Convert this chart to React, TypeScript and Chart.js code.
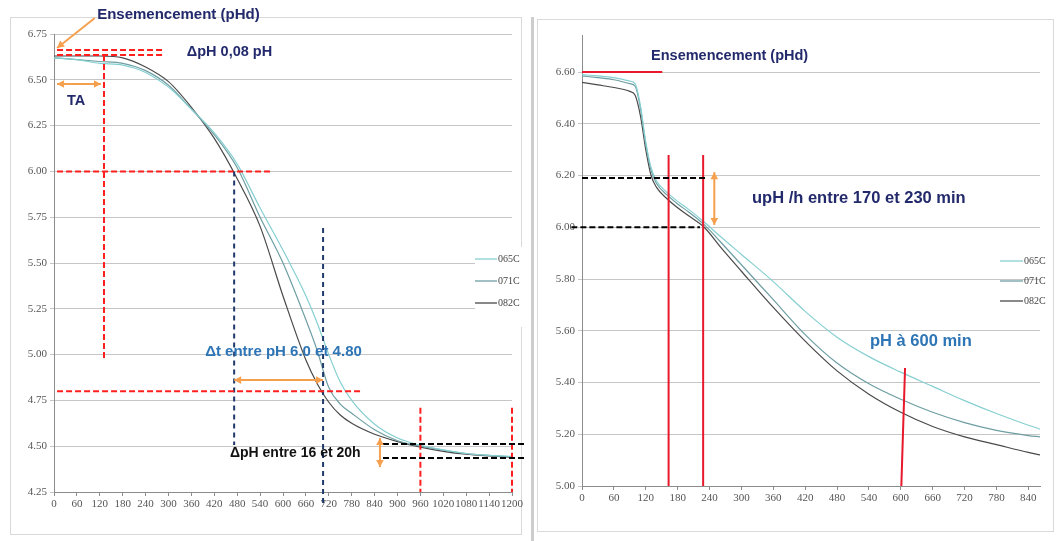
import React, { useEffect, useRef } from "react";
import { Chart, registerables } from "chart.js";

Chart.register(...registerables);

// ---------- data ----------
const seriesNames = ["065C", "071C", "082C"];

const leftTimes = [0, 60, 120, 180, 240, 300, 360, 420, 480, 540, 600, 660, 690, 720, 750, 780, 840, 900, 960, 1020, 1080, 1140, 1200];
const left065C = [6.62, 6.61, 6.59, 6.58, 6.54, 6.46, 6.34, 6.21, 6.04, 5.80, 5.57, 5.32, 5.17, 5.0, 4.85, 4.75, 4.62, 4.545, 4.505, 4.48, 4.46, 4.45, 4.445];
const left071C = [6.62, 6.61, 6.60, 6.59, 6.55, 6.47, 6.34, 6.20, 6.02, 5.75, 5.50, 5.19, 5.02, 4.82, 4.73, 4.68, 4.59, 4.53, 4.50, 4.478, 4.46, 4.45, 4.443];
const left082C = [6.63, 6.63, 6.63, 6.62, 6.57, 6.49, 6.35, 6.18, 5.96, 5.70, 5.32, 4.97, 4.84, 4.74, 4.67, 4.625, 4.565, 4.525, 4.495, 4.472, 4.456, 4.447, 4.44];
const leftXTicks = [0, 60, 120, 180, 240, 300, 360, 420, 480, 540, 600, 660, 720, 780, 840, 900, 960, 1020, 1080, 1140, 1200];
const leftYTicks = [4.25, 4.5, 4.75, 5.0, 5.25, 5.5, 5.75, 6.0, 6.25, 6.5, 6.75];

const rightTimes = [0, 30, 60, 90, 100, 110, 120, 130, 140, 160, 180, 200, 230, 260, 300, 360, 420, 480, 540, 600, 660, 720, 780, 840, 862];
const right065C = [6.59, 6.585, 6.578, 6.565, 6.555, 6.47, 6.33, 6.23, 6.18, 6.135, 6.10, 6.07, 6.02, 5.965, 5.895, 5.79, 5.675, 5.575, 5.50, 5.44, 5.385, 5.33, 5.28, 5.235, 5.22];
const right071C = [6.585, 6.578, 6.57, 6.555, 6.545, 6.46, 6.32, 6.22, 6.17, 6.125, 6.09, 6.06, 6.01, 5.945, 5.855, 5.72, 5.585, 5.475, 5.395, 5.335, 5.285, 5.245, 5.215, 5.195, 5.19];
const right082C = [6.56, 6.55, 6.54, 6.525, 6.51, 6.43, 6.30, 6.20, 6.155, 6.11, 6.075, 6.045, 6.0, 5.925, 5.83, 5.69, 5.56, 5.445, 5.355, 5.285, 5.23, 5.19, 5.16, 5.13, 5.12];
const rightXTicks = [0, 60, 120, 180, 240, 300, 360, 420, 480, 540, 600, 660, 720, 780, 840];
const rightYTicks = [5.0, 5.2, 5.4, 5.6, 5.8, 6.0, 6.2, 6.4, 6.6];

// ---------- styles ----------
const seriesColors = ["#86cfd1", "#6e9ea2", "#4a4a4a"];
const NAVY = "#232a6c";
const BLUE = "#2e75b6";
const RED = "#ff1f1f";
const ORANGE = "#f5a04e";
const DNAVY = "#1f3a6b";

type Seg = { x1: number; y1: number; x2: number; y2: number; color: string; width: number; dash?: number[]; heads?: "end" | "both" };
type Txt = { x: number; y: number; text: string; color: string; size: number; bold?: boolean };

// annotations in data units (time min, pH)
const leftSegs: Seg[] = [
  { x1: 107, y1: 6.837, x2: 8, y2: 6.674, color: ORANGE, width: 2, heads: "end" },
  { x1: 8, y1: 6.663, x2: 285, y2: 6.663, color: RED, width: 2, dash: [6, 3] },
  { x1: 8, y1: 6.635, x2: 285, y2: 6.635, color: RED, width: 2, dash: [6, 3] },
  { x1: 8, y1: 6.477, x2: 123, y2: 6.477, color: ORANGE, width: 2, heads: "both" },
  { x1: 131, y1: 6.635, x2: 131, y2: 4.97, color: RED, width: 2, dash: [6, 3] },
  { x1: 8, y1: 6.0, x2: 574, y2: 6.0, color: RED, width: 2, dash: [6, 3] },
  { x1: 472, y1: 6.0, x2: 472, y2: 4.506, color: DNAVY, width: 2, dash: [5, 4] },
  { x1: 705, y1: 5.691, x2: 705, y2: 4.179, color: DNAVY, width: 2, dash: [5, 4] },
  { x1: 472, y1: 4.861, x2: 705, y2: 4.861, color: ORANGE, width: 2, heads: "both" },
  { x1: 8, y1: 4.80, x2: 807, y2: 4.80, color: RED, width: 2, dash: [6, 3] },
  { x1: 960, y1: 4.71, x2: 960, y2: 4.25, color: RED, width: 2, dash: [6, 3] },
  { x1: 1200, y1: 4.71, x2: 1200, y2: 4.25, color: RED, width: 2, dash: [6, 3] },
  { x1: 862, y1: 4.512, x2: 1239, y2: 4.512, color: "#000", width: 2, dash: [6, 3] },
  { x1: 862, y1: 4.436, x2: 1239, y2: 4.436, color: "#000", width: 2, dash: [6, 3] },
  { x1: 854, y1: 4.545, x2: 854, y2: 4.386, color: ORANGE, width: 2, heads: "both" },
];
const leftTexts: Txt[] = [
  { x: 113, y: 6.854, text: "Ensemencement (pHd)", color: NAVY, size: 15, bold: true },
  { x: 348, y: 6.652, text: "ΔpH 0,08 pH", color: NAVY, size: 14.5, bold: true },
  { x: 34, y: 6.384, text: "TA", color: NAVY, size: 14.5, bold: true },
  { x: 396, y: 5.014, text: "Δt entre pH 6.0 et 4.80", color: BLUE, size: 15, bold: true },
  { x: 461, y: 4.463, text: "ΔpH entre 16 et 20h", color: "#111", size: 14, bold: true },
];

const rightSegs: Seg[] = [
  { x1: 0, y1: 6.60, x2: 151, y2: 6.60, color: "#e8192c", width: 2 },
  { x1: 163, y1: 6.279, x2: 163, y2: 5.0, color: "#e8192c", width: 2 },
  { x1: 228, y1: 6.279, x2: 228, y2: 5.0, color: "#e8192c", width: 2 },
  { x1: 0, y1: 6.19, x2: 232, y2: 6.19, color: "#000", width: 2, dash: [6, 3] },
  { x1: -20, y1: 6.0, x2: 222, y2: 6.0, color: "#000", width: 2, dash: [6, 3] },
  { x1: 249, y1: 6.213, x2: 249, y2: 6.009, color: ORANGE, width: 2, heads: "both" },
  { x1: 608, y1: 5.456, x2: 601, y2: 5.0, color: "#e8192c", width: 2 },
];
const rightTexts: Txt[] = [
  { x: 130, y: 6.662, text: "Ensemencement (pHd)", color: NAVY, size: 14.5, bold: true },
  { x: 320, y: 6.113, text: "upH /h entre 170 et 230 min", color: NAVY, size: 16.5, bold: true },
  { x: 542, y: 5.56, text: "pH à 600 min", color: BLUE, size: 16.5, bold: true },
];

function arrowHead(ctx: CanvasRenderingContext2D, x1: number, y1: number, x2: number, y2: number, size: number) {
  const a = Math.atan2(y2 - y1, x2 - x1);
  ctx.beginPath();
  ctx.moveTo(x2, y2);
  ctx.lineTo(x2 - size * Math.cos(a - 0.5), y2 - size * Math.sin(a - 0.5));
  ctx.lineTo(x2 - size * Math.cos(a + 0.5), y2 - size * Math.sin(a + 0.5));
  ctx.closePath();
  ctx.fill();
}

type PanelCfg = {
  times: number[];
  series: number[][];
  xMin: number;
  xMax: number;
  yMin: number;
  yMax: number;
  xTicks: number[];
  yTicks: number[];
  padding: { left: number; right: number; top: number; bottom: number };
  yWidth: number;
  segs: Seg[];
  texts: Txt[];
  legend: { dx: number; dy: number; rowH: number; lineLen: number; bg: boolean; bgW: number };
};

function makeChart(canvas: HTMLCanvasElement, p: PanelCfg) {
  const tickFont = { family: "'Liberation Serif', serif", size: 11 };
  const overlay = {
    id: "overlay",
    afterDatasetsDraw(chart: any) {
      const { ctx, scales } = chart;
      const xs = scales.x;
      const ys = scales.y;
      ctx.save();
      for (const s of p.segs) {
        const X1 = xs.getPixelForValue(s.x1);
        const Y1 = ys.getPixelForValue(s.y1);
        const X2 = xs.getPixelForValue(s.x2);
        const Y2 = ys.getPixelForValue(s.y2);
        ctx.strokeStyle = s.color;
        ctx.fillStyle = s.color;
        ctx.lineWidth = s.width;
        ctx.setLineDash(s.dash || []);
        ctx.beginPath();
        ctx.moveTo(X1, Y1);
        ctx.lineTo(X2, Y2);
        ctx.stroke();
        ctx.setLineDash([]);
        if (s.heads === "end" || s.heads === "both") arrowHead(ctx, X1, Y1, X2, Y2, 8);
        if (s.heads === "both") arrowHead(ctx, X2, Y2, X1, Y1, 8);
      }
      for (const t of p.texts) {
        ctx.font = `${t.bold ? "bold " : ""}${t.size}px 'Liberation Sans', Arial, sans-serif`;
        ctx.fillStyle = t.color;
        ctx.textAlign = "left";
        ctx.textBaseline = "middle";
        ctx.fillText(t.text, xs.getPixelForValue(t.x), ys.getPixelForValue(t.y));
      }
      ctx.restore();
    },
    afterDraw(chart: any) {
      const { ctx, chartArea } = chart;
      const L = p.legend;
      const lx = chartArea.right + L.dx;
      const ly = chartArea.top + L.dy;
      ctx.save();
      if (L.bg) {
        ctx.fillStyle = "#ffffff";
        ctx.fillRect(lx, ly - 12, L.bgW, L.rowH * 3 + 14);
      }
      ctx.font = "10px 'Liberation Serif', serif";
      ctx.textBaseline = "middle";
      ctx.textAlign = "left";
      seriesNames.forEach((name, i) => {
        const yy = ly + i * L.rowH;
        ctx.strokeStyle = seriesColors[i];
        ctx.lineWidth = 1.3;
        ctx.beginPath();
        ctx.moveTo(lx, yy);
        ctx.lineTo(lx + L.lineLen, yy);
        ctx.stroke();
        ctx.fillStyle = "#444";
        ctx.fillText(name, lx + L.lineLen + 1, yy);
      });
      ctx.restore();
    },
  };

  return new Chart(canvas, {
    type: "line",
    data: {
      datasets: p.series.map((s, i) => ({
        label: seriesNames[i],
        data: p.times.map((t, j) => ({ x: t, y: s[j] })),
        borderColor: seriesColors[i],
        borderWidth: 1.2,
        pointRadius: 0,
        cubicInterpolationMode: "monotone" as const,
        fill: false,
      })),
    },
    options: {
      responsive: false,
      animation: false,
      layout: { padding: p.padding },
      plugins: { legend: { display: false }, tooltip: { enabled: false }, title: { display: false } },
      scales: {
        x: {
          type: "linear",
          min: p.xMin,
          max: p.xMax,
          afterBuildTicks: (s: any) => {
            s.ticks = p.xTicks.map((v) => ({ value: v }));
          },
          afterFit: (s: any) => {
            s.height = 24;
          },
          ticks: { autoSkip: false, maxRotation: 0, minRotation: 0, font: tickFont, color: "#555", padding: 2, callback: (v: any) => String(v) },
          grid: { drawOnChartArea: false, drawTicks: true, tickLength: 4, color: "#8c8c8c" },
          border: { color: "#8c8c8c" },
        },
        y: {
          type: "linear",
          min: p.yMin,
          max: p.yMax,
          afterBuildTicks: (s: any) => {
            s.ticks = p.yTicks.map((v) => ({ value: v }));
          },
          afterFit: (s: any) => {
            s.width = p.yWidth;
          },
          ticks: { font: tickFont, color: "#555", padding: 3, callback: (v: any) => Number(v).toFixed(2) },
          grid: { color: "#c6c6c6", tickLength: 4, drawTicks: true },
          border: { color: "#8c8c8c" },
        },
      },
    } as any,
    plugins: [overlay],
  });
}

export default function App() {
  const leftRef = useRef<HTMLCanvasElement>(null);
  const rightRef = useRef<HTMLCanvasElement>(null);

  useEffect(() => {
    const c1 = makeChart(leftRef.current!, {
      times: leftTimes,
      series: [left065C, left071C, left082C],
      xMin: 0,
      xMax: 1200,
      yMin: 4.25,
      yMax: 6.75,
      xTicks: leftXTicks,
      yTicks: leftYTicks,
      padding: { left: 14, right: 18, top: 34, bottom: 25 },
      yWidth: 40,
      segs: leftSegs,
      texts: leftTexts,
      legend: { dx: -37, dy: 225, rowH: 22, lineLen: 22, bg: true, bgW: 52 },
    });
    const c2 = makeChart(rightRef.current!, {
      times: rightTimes,
      series: [right065C, right071C, right082C],
      xMin: 0,
      xMax: 862,
      yMin: 5.0,
      yMax: 6.743,
      xTicks: rightXTicks,
      yTicks: rightYTicks,
      padding: { left: 9, right: 21, top: 35, bottom: 31 },
      yWidth: 38,
      segs: rightSegs,
      texts: rightTexts,
      legend: { dx: -40, dy: 226, rowH: 20, lineLen: 23, bg: false, bgW: 0 },
    });
    return () => {
      c1.destroy();
      c2.destroy();
    };
  }, []);

  return (
    <div style={{ position: "absolute", left: 0, top: 0, width: 1061, height: 541, background: "#fff", overflow: "hidden" }}>
      <div style={{ position: "absolute", left: 10, top: 17, width: 512, height: 518, border: "1px solid #d9d9d9", boxSizing: "border-box" }} />
      <div style={{ position: "absolute", left: 531, top: 17, width: 3, height: 524, background: "#cdcdcd" }} />
      <div style={{ position: "absolute", left: 537, top: 19, width: 517, height: 513, border: "1px solid #d9d9d9", boxSizing: "border-box" }} />
      <canvas ref={leftRef} width={530} height={541} style={{ position: "absolute", left: 0, top: 0 }} />
      <canvas ref={rightRef} width={526} height={541} style={{ position: "absolute", left: 535, top: 0 }} />
    </div>
  );
}
